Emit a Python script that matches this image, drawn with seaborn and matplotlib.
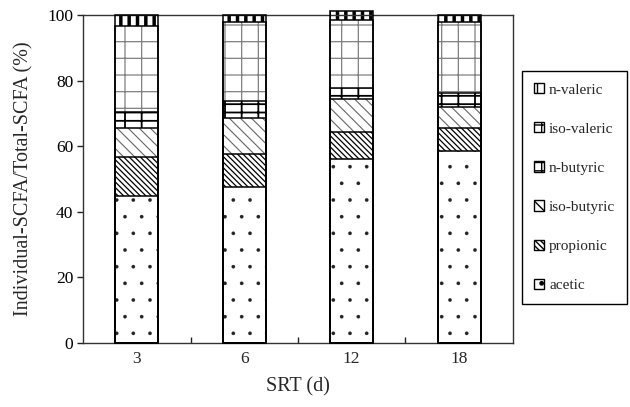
import numpy as np
import pandas as pd
import matplotlib
matplotlib.use("Agg")
import matplotlib.pyplot as plt
import seaborn as sns
from matplotlib.patches import Patch
from matplotlib.ticker import FixedLocator

# ---- data ----
srt = ["3", "6", "12", "18"]
acetic = [44.8, 47.7, 56.0, 58.5]
propionic = [11.8, 9.8, 8.4, 7.0]
iso_butyric = [9.0, 11.0, 9.9, 6.5]
n_butyric = [4.7, 5.3, 3.4, 4.1]
iso_valeric = [26.4, 24.2, 20.8, 21.9]
n_valeric = [3.3, 2.0, 2.6, 2.0]

species = ["acetic", "propionic", "iso-butyric", "n-butyric", "iso-valeric", "n-valeric"]
layers = [acetic, propionic, iso_butyric, n_butyric, iso_valeric, n_valeric]

# hatch, hatch colour, hatch linewidth
styles = {
    "acetic": (".", "#222222", 0.2),
    "propionic": ("\\\\\\\\\\\\", "black", 0.9),
    "iso-butyric": ("\\\\\\", "#666666", 0.8),
    "n-butyric": ("--|", "black", 1.3),
    "iso-valeric": ("+", "#808080", 0.9),
    "n-valeric": ("||", "black", 2.5),
}

sns.set_style("ticks")
plt.rcParams["font.family"] = ["Liberation Serif", "DejaVu Serif"]

fig = plt.figure(figsize=(6.3, 4.07), dpi=100)
ax = fig.add_axes([0.132, 0.157, 0.682, 0.806])

cum = np.cumsum(np.array(layers, dtype=float), axis=0)

# hatched fills: draw cumulative heights from the top layer down
for i in reversed(range(len(species))):
    name = species[i]
    hatch, hc, hlw = styles[name]
    n_before = len(ax.patches)
    with plt.rc_context({"hatch.linewidth": hlw}):
        sns.barplot(x=srt, y=cum[i], order=srt, color="white", saturation=1,
                    width=0.4, edgecolor=hc, linewidth=0, hatch=hatch,
                    errorbar=None, ax=ax, zorder=2)
    for p in ax.patches[n_before:]:
        p.set_clip_on(False)
        if hasattr(p, "set_hatch_linewidth"):
            p.set_hatch_linewidth(hlw)

# black outlines of each segment
for i in reversed(range(len(species))):
    n_before = len(ax.patches)
    sns.barplot(x=srt, y=cum[i], order=srt, color="black", fill=False,
                width=0.4, edgecolor="black", linewidth=1.1,
                errorbar=None, ax=ax, zorder=4)
    for p in ax.patches[n_before:]:
        p.set_clip_on(False)
        p.set_facecolor("none")
        p.set_edgecolor("black")

ax.set_xlim(-0.5, 3.5)
ax.set_ylim(0, 100)
ax.set_yticks(range(0, 101, 20))
ax.tick_params(axis="y", direction="out", length=4, width=1, labelsize=12.5,
               pad=3, colors="#222222", labelcolor="black")
ax.tick_params(axis="x", which="major", length=0, labelsize=12.5, pad=6)
ax.xaxis.set_minor_locator(FixedLocator([0.5, 1.5, 2.5]))
ax.tick_params(axis="x", which="minor", direction="in", length=4, width=1,
               bottom=True, color="#222222")

for s in ax.spines.values():
    s.set_visible(True)
    s.set_linewidth(1.0)
    s.set_color("#333333")

ax.set_xlabel("SRT (d)", fontsize=14.5, labelpad=7)
ax.set_ylabel("Individual-SCFA/Total-SCFA (%)", fontsize=14.5, labelpad=10)

handles = []
for name in reversed(species):
    hatch, hc, hlw = styles[name]
    lw_h = min(max(hlw, 0.8), 1.5)
    with plt.rc_context({"hatch.linewidth": lw_h}):
        h = Patch(facecolor="white", edgecolor="black", hatch=hatch, linewidth=1.0)
    if hasattr(h, "set_hatch_linewidth"):
        h.set_hatch_linewidth(lw_h)
    handles.append(h)

fig.legend(handles, list(reversed(species)), loc="upper left",
           bbox_to_anchor=(0.829, 0.826), bbox_transform=fig.transFigure,
           frameon=True, fancybox=False, edgecolor="black", framealpha=1,
           fontsize=11, handlelength=0.65, handleheight=0.65,
           handletextpad=0.3, labelspacing=1.68, borderpad=0.8,
           borderaxespad=0)

fig.savefig("out.png", dpi=100)
